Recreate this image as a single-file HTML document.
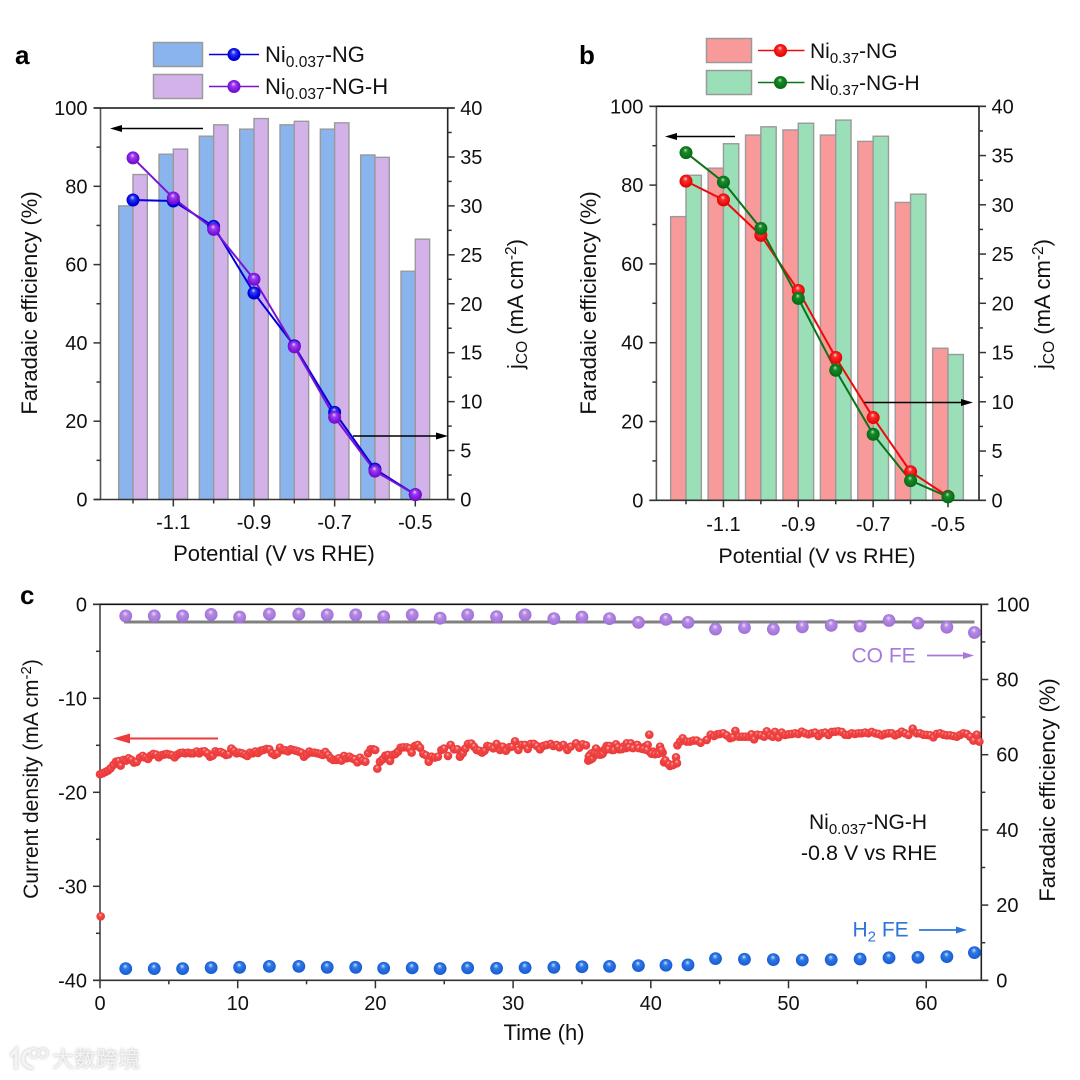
<!DOCTYPE html>
<html lang="en">
<head>
<meta charset="utf-8">
<title>Faradaic efficiency and stability charts</title>
<style>
html,body{margin:0;padding:0;background:#fff;}
svg{display:block;}
text{font-family:"Liberation Sans","Noto Sans CJK SC",sans-serif;fill:#111;font-size:20px;}
.tag{font-weight:bold;font-size:26px;fill:#000;}
.t22{font-size:22px;}
.t21{font-size:21px;}
.t215{font-size:21.5px;}
</style>
</head>
<body>
<svg id="figure" xmlns="http://www.w3.org/2000/svg" width="1080" height="1080" viewBox="0 0 1080 1080">
<defs>
<radialGradient id="sph-blue" cx="50%" cy="50%" r="55%" fx="45%" fy="28%"><stop offset="0" stop-color="#cdd6ff"/><stop offset=".3" stop-color="#2a3cf0"/><stop offset=".75" stop-color="#0000dd"/><stop offset="1" stop-color="#0000b8"/></radialGradient>
<radialGradient id="sph-purple" cx="50%" cy="50%" r="55%" fx="45%" fy="28%"><stop offset="0" stop-color="#ecd2ff"/><stop offset=".3" stop-color="#9a3ef0"/><stop offset=".75" stop-color="#7a12d8"/><stop offset="1" stop-color="#6a0cc0"/></radialGradient>
<radialGradient id="sph-red" cx="50%" cy="50%" r="55%" fx="45%" fy="28%"><stop offset="0" stop-color="#ffd8d8"/><stop offset=".3" stop-color="#f53030"/><stop offset=".75" stop-color="#ee0a0a"/><stop offset="1" stop-color="#d40000"/></radialGradient>
<radialGradient id="sph-green" cx="50%" cy="50%" r="55%" fx="45%" fy="28%"><stop offset="0" stop-color="#bfe8c4"/><stop offset=".3" stop-color="#18882a"/><stop offset=".75" stop-color="#0a7418"/><stop offset="1" stop-color="#066010"/></radialGradient>
<radialGradient id="sph-co" cx="50%" cy="50%" r="55%" fx="45%" fy="28%"><stop offset="0" stop-color="#f0e2fb"/><stop offset=".35" stop-color="#b48ae2"/><stop offset=".8" stop-color="#a676dc"/><stop offset="1" stop-color="#9566cc"/></radialGradient>
<radialGradient id="sph-h2" cx="50%" cy="50%" r="55%" fx="45%" fy="28%"><stop offset="0" stop-color="#cfe2ff"/><stop offset=".35" stop-color="#2f78e4"/><stop offset=".8" stop-color="#1c62d8"/><stop offset="1" stop-color="#1654c0"/></radialGradient>
<radialGradient id="sph-cur" cx="50%" cy="50%" r="55%" fx="45%" fy="30%"><stop offset="0" stop-color="#ffc8c8"/><stop offset=".35" stop-color="#f24a4a"/><stop offset="1" stop-color="#e93434"/></radialGradient>
<filter id="wm-glow" x="-20%" y="-30%" width="140%" height="160%"><feGaussianBlur in="SourceAlpha" stdDeviation="1.4" result="b"/><feFlood flood-color="#9a9a9a" flood-opacity=".75"/><feComposite in2="b" operator="in"/><feMerge><feMergeNode/><feMergeNode in="SourceGraphic"/></feMerge></filter>
</defs>

<g id="panel-a"></g>
<g id="panel-b"></g>
<g id="panel-c"></g>

<text class="tag" x="15" y="64">a</text>
<text class="tag" x="579" y="64">b</text>
<text class="tag" x="20" y="604">c</text>

<!-- legend a -->
<g>
<g>
<rect x="153.5" y="42.5" width="49" height="24" fill="#8ab4ee" stroke="#9a9a9a" stroke-width="1.5"/>
<line x1="209" x2="259" y1="54.5" y2="54.5" stroke="#0000dd" stroke-width="1.5"/>
<circle cx="234" cy="54.5" r="6.5" fill="url(#sph-blue)"/>
<text class="t22" x="265" y="62">Ni<tspan font-size="15.5" dy="5">0.037</tspan><tspan dy="-5">-NG</tspan></text>
</g>
<g>
<rect x="153.5" y="74.5" width="49" height="24" fill="#d3b2ea" stroke="#9a9a9a" stroke-width="1.5"/>
<line x1="209" x2="259" y1="86.5" y2="86.5" stroke="#7a12d8" stroke-width="1.5"/>
<circle cx="234" cy="86.5" r="6.5" fill="url(#sph-purple)"/>
<text class="t22" x="265" y="94">Ni<tspan font-size="15.5" dy="5">0.037</tspan><tspan dy="-5">-NG-H</tspan></text>
</g>
</g>

<!-- legend b -->
<g>
<g>
<rect x="706.5" y="38.5" width="45" height="24" fill="#f89a9a" stroke="#9a9a9a" stroke-width="1.5"/>
<line x1="758" x2="804.5" y1="50.5" y2="50.5" stroke="#ee0a0a" stroke-width="1.5"/>
<circle cx="780.5" cy="50.5" r="6.5" fill="url(#sph-red)"/>
<text class="t21" x="810" y="58">Ni<tspan font-size="15" dy="5">0.37</tspan><tspan dy="-5">-NG</tspan></text>
</g>
<g>
<rect x="706.5" y="70.5" width="45" height="24" fill="#9adfb8" stroke="#9a9a9a" stroke-width="1.5"/>
<line x1="758" x2="804.5" y1="82.5" y2="82.5" stroke="#0a7418" stroke-width="1.5"/>
<circle cx="780.5" cy="82.5" r="6.5" fill="url(#sph-green)"/>
<text class="t21" x="810" y="90">Ni<tspan font-size="15" dy="5">0.37</tspan><tspan dy="-5">-NG-H</tspan></text>
</g>
</g>

<!-- axis titles -->
<text class="t22" x="274" y="561" text-anchor="middle">Potential (V vs RHE)</text>
<text class="t22" transform="translate(37,303) rotate(-90)" text-anchor="middle">Faradaic efficiency (%)</text>
<text class="t22" transform="translate(523,304) rotate(-90)" text-anchor="middle">j<tspan font-size="15.5" dy="4">CO</tspan><tspan dy="-4"> (mA cm</tspan><tspan font-size="15.5" dy="-7">-2</tspan><tspan dy="7">)</tspan></text>

<text class="t215" x="817" y="563" text-anchor="middle">Potential (V vs RHE)</text>
<text class="t22" transform="translate(596,303) rotate(-90)" text-anchor="middle">Faradaic efficiency (%)</text>
<text class="t22" transform="translate(1050,304) rotate(-90)" text-anchor="middle">j<tspan font-size="15.5" dy="4">CO</tspan><tspan dy="-4"> (mA cm</tspan><tspan font-size="15.5" dy="-7">-2</tspan><tspan dy="7">)</tspan></text>

<text class="t22" x="544" y="1040" text-anchor="middle">Time (h)</text>
<text class="t21" transform="translate(38,779) rotate(-90)" text-anchor="middle">Current density (mA cm<tspan font-size="15" dy="-7">-2</tspan><tspan dy="7">)</tspan></text>
<text class="t22" transform="translate(1055,790) rotate(-90)" text-anchor="middle">Faradaic efficiency (%)</text>

<!-- direction arrows -->
<g><line x1="203" x2="118" y1="128.5" y2="128.5" stroke="#000" stroke-width="1.5"/><polygon points="110,128.5 122,125 122,132" fill="#000"/></g>
<g><line x1="353" x2="440" y1="436" y2="436" stroke="#000" stroke-width="1.5"/><polygon points="448,436 436,432.5 436,439.5" fill="#000"/></g>
<g><line x1="735" x2="672" y1="136.5" y2="136.5" stroke="#000" stroke-width="1.5"/><polygon points="665,136.5 677,133 677,140" fill="#000"/></g>
<g><line x1="864" x2="966" y1="402.5" y2="402.5" stroke="#000" stroke-width="1.5"/><polygon points="973,402.5 961,399 961,406" fill="#000"/></g>
<g><line x1="218" x2="122" y1="738.5" y2="738.5" stroke="#ee3a3a" stroke-width="2"/><polygon points="113,738.5 130,733.5 130,743.5" fill="#ee3a3a"/></g>

<!-- annotations -->
<g>
<text class="t21" x="851.5" y="662.5" style="fill:#a878dc">CO FE</text>
<line x1="927" x2="966" y1="655.5" y2="655.5" stroke="#a878dc" stroke-width="1.8"/><polygon points="974,655.5 963,652 963,659" fill="#a878dc"/>
</g>
<g>
<text class="t21" x="852.5" y="936.5" style="fill:#2f74d8">H<tspan font-size="15" dy="5">2</tspan><tspan dy="-5"> FE</tspan></text>
<line x1="919" x2="960" y1="930" y2="930" stroke="#2f74d8" stroke-width="1.8"/><polygon points="967,930 956,926.5 956,933.5" fill="#2f74d8"/>
</g>
<text class="t21" x="809" y="829">Ni<tspan font-size="15" dy="5">0.037</tspan><tspan dy="-5">-NG-H</tspan></text>
<text class="t215" x="869" y="860" text-anchor="middle">-0.8 V vs RHE</text>

<!-- watermark -->
<g filter="url(#wm-glow)">
<path d="M11 1056 L16 1050 V1069 M31 1050 C20 1052 20 1067 33 1068" fill="none" stroke="#f4f4f4" stroke-width="3.2"/>
<circle cx="34" cy="1053" r="4.5" fill="none" stroke="#f4f4f4" stroke-width="1.6"/>
<circle cx="43" cy="1053" r="4.5" fill="none" stroke="#f4f4f4" stroke-width="1.6"/>
<text x="52" y="1067" style="font-size:22px;fill:#f4f4f4;font-family:'Liberation Sans','Noto Sans CJK SC',sans-serif;">大数跨境</text>
</g>

<script>
/* ---------- data: panels a and b share the same potential categories ---------- */
var potentials = [-1.2, -1.1, -1.0, -0.9, -0.8, -0.7, -0.6, -0.5];

var aFeNg  = [75, 88.2, 92.8, 94.6, 95.7, 94.6, 88, 58.3];
var aFeNgH = [83, 89.5, 95.7, 97.3, 96.6, 96.2, 87.4, 66.5];
var aJNg   = [30.6, 30.5, 27.9, 21.1, 15.7, 8.9, 3.1, 0.5];
var aJNgH  = [34.9, 30.8, 27.6, 22.5, 15.6, 8.4, 2.9, 0.5];

var bFeNg  = [72, 84.3, 92.7, 94, 92.7, 91.1, 75.6, 38.6];
var bFeNgH = [82.5, 90.5, 94.8, 95.7, 96.5, 92.4, 77.7, 37];
var bJNg   = [32.4, 30.5, 26.9, 21.3, 14.5, 8.4, 2.9, 0.4];
var bJNgH  = [35.3, 32.3, 27.6, 20.5, 13.2, 6.7, 2.0, 0.35];

var potentialMajorTicks = [-1.1, -0.9, -0.7, -0.5];
var potentialMinorTicks = [-1.2, -1.0, -0.8, -0.6];
var potentialTickLabels = ['-1.1', '-0.9', '-0.7', '-0.5'];
var feMajorTicks = [0, 20, 40, 60, 80, 100];
var feMinorTicks = [10, 30, 50, 70, 90];
var jMajorTicks = [0, 5, 10, 15, 20, 25, 30, 35, 40];
var jMinorTicks = [2.5, 7.5, 12.5, 17.5, 22.5, 27.5, 32.5, 37.5];

/* ---------- data: panel c ---------- */
var feTimes = [1.87, 3.94, 6.0, 8.07, 10.14, 12.3, 14.44, 16.5, 18.57, 20.6, 22.67, 24.7, 26.7, 28.8, 30.87, 32.96, 35, 37, 39.1, 41.1, 42.7, 44.7, 46.8, 48.9, 51, 53.1, 55.2, 57.3, 59.4, 61.5, 63.5];
var coFe = [96.9, 96.9, 96.9, 97.3, 96.6, 97.4, 97.4, 97.2, 97.2, 96.7, 97.2, 96.3, 97.2, 96.7, 97.2, 96.2, 96.6, 96.2, 95.2, 96, 95.2, 93.4, 93.8, 93.4, 94, 94.4, 94.2, 95.7, 95, 93.9, 92.5];
var h2Fe = [3.1, 3.1, 3.1, 3.37, 3.46, 3.7, 3.7, 3.46, 3.46, 3.2, 3.3, 3.1, 3.3, 3.2, 3.37, 3.46, 3.6, 3.7, 3.9, 4.0, 4.1, 5.76, 5.6, 5.5, 5.4, 5.5, 5.67, 6.0, 6.1, 6.3, 7.36];
var coFeGuideTimes = [1.75, 63.5];
var coFeGuideValues = [95.3, 95.3];

var currentTimes = [0.05,0.00,0.19,0.39,0.58,0.77,0.97,1.16,1.36,1.50,1.69,1.89,2.08,2.28,2.47,2.66,2.90,3.10,3.29,3.49,3.68,3.87,4.07,4.26,4.45,4.65,4.84,5.04,5.23,5.42,5.62,5.81,6.00,6.20,6.39,6.58,6.78,7.02,7.21,7.41,7.60,7.79,7.99,8.18,8.38,8.57,8.76,8.96,9.15,9.34,9.54,9.73,9.92,10.12,10.31,10.51,10.70,10.89,11.09,11.28,11.47,11.67,11.86,12.10,12.30,12.49,12.68,12.88,13.07,13.27,13.46,13.65,13.85,14.04,14.23,14.43,14.62,14.81,15.01,15.20,15.40,15.59,15.78,15.98,16.17,16.36,16.56,16.75,16.94,17.14,17.33,17.53,17.72,17.91,18.11,18.30,18.49,18.69,18.88,19.07,19.27,19.46,19.65,19.85,19.99,20.14,20.33,20.53,20.72,20.91,21.06,21.25,21.45,21.64,21.83,22.03,22.27,22.46,22.63,22.87,23.07,23.24,23.48,23.67,23.87,24.08,24.30,24.54,24.79,24.98,25.27,25.46,25.71,25.95,26.14,26.34,26.53,26.72,26.97,27.16,27.35,27.55,27.74,27.93,28.13,28.32,28.56,28.80,29.05,29.24,29.48,29.72,29.92,30.14,30.38,30.62,30.86,31.06,31.27,31.52,31.71,31.95,32.19,32.44,32.73,32.92,33.16,33.36,33.65,33.94,34.18,34.57,34.81,35.05,35.29,35.46,35.58,35.70,35.82,36.02,36.19,36.43,36.60,36.79,36.99,37.18,37.47,37.71,38.00,38.25,38.54,38.78,39.02,39.34,39.58,39.77,39.89,39.94,40.18,40.42,40.67,40.86,40.96,41.20,41.39,41.73,41.83,41.93,42.12,42.31,42.60,42.84,43.09,43.33,43.62,44.06,44.35,44.59,44.83,45.03,45.27,45.51,45.76,45.95,46.14,46.39,46.63,46.87,47.11,47.31,47.50,47.74,47.98,48.23,48.42,48.66,48.85,49.02,49.27,49.51,49.75,49.99,50.23,50.48,50.72,50.96,51.20,51.44,51.69,51.93,52.17,52.41,52.66,52.90,53.14,53.38,53.62,53.87,54.11,54.35,54.59,54.83,55.08,55.32,55.56,55.80,56.04,56.29,56.53,56.77,57.01,57.25,57.50,57.74,57.98,58.22,58.46,58.71,59.02,59.31,59.55,59.80,60.04,60.28,60.52,60.76,61.01,61.25,61.49,61.73,61.97,62.22,62.46,62.70,62.94,63.19,63.43,63.67,63.86,35.50,35.62,35.75,35.90,36.10,36.30,36.50,36.70,36.90,37.30,37.60,37.90,38.20,38.40,38.70,39.10,39.45,39.70,40.05,40.30,40.55,40.75,41.05,41.30,41.60,41.90];
var currentDensity = [-33.2,-18.08,-17.98,-17.84,-17.69,-17.45,-17.09,-16.74,-16.67,-17.16,-16.56,-16.63,-16.38,-16.56,-16.84,-16.77,-16.31,-16.13,-16.31,-16.45,-16.10,-15.92,-15.99,-16.28,-16.06,-15.99,-15.92,-15.99,-16.06,-16.28,-15.99,-15.82,-15.78,-15.85,-15.78,-15.85,-15.85,-15.67,-15.85,-15.67,-15.64,-15.85,-16.21,-16.10,-15.64,-15.74,-15.71,-15.85,-16.03,-15.96,-15.35,-15.60,-15.85,-15.78,-15.85,-15.99,-16.13,-15.78,-15.85,-15.67,-15.82,-15.57,-15.50,-15.39,-15.43,-15.85,-16.03,-15.85,-15.25,-15.50,-15.53,-15.64,-15.43,-15.50,-15.57,-15.67,-15.78,-16.21,-15.96,-15.67,-15.78,-15.78,-15.85,-15.92,-16.03,-15.71,-16.03,-16.38,-16.56,-16.56,-16.38,-16.63,-16.13,-16.38,-16.21,-16.38,-16.49,-16.81,-16.31,-16.63,-16.74,-15.85,-15.43,-15.43,-15.50,-17.48,-16.74,-16.49,-16.10,-16.03,-16.67,-16.03,-15.92,-15.67,-15.25,-15.21,-15.21,-15.32,-15.78,-15.07,-14.96,-15.25,-15.92,-16.06,-16.74,-16.21,-16.31,-16.21,-15.50,-15.35,-16.13,-14.96,-15.43,-15.43,-16.21,-15.85,-15.35,-14.86,-14.82,-15.14,-15.50,-15.57,-15.78,-15.57,-15.07,-15.14,-15.32,-14.86,-15.50,-15.14,-15.57,-15.21,-15.14,-14.57,-15.50,-14.96,-14.96,-15.39,-14.86,-14.86,-15.07,-15.43,-15.07,-14.96,-14.86,-15.07,-14.96,-15.21,-14.96,-15.50,-15.14,-14.79,-15.25,-14.89,-15.00,-16.63,-16.03,-15.85,-16.21,-15.35,-15.85,-15.96,-15.50,-15.07,-15.07,-15.50,-14.89,-15.43,-15.14,-14.79,-14.79,-15.14,-14.96,-15.35,-15.14,-14.96,-13.87,-15.71,-15.67,-15.78,-15.14,-15.78,-16.81,-16.91,-17.20,-16.99,-16.28,-15.00,-14.61,-14.25,-14.61,-14.61,-14.50,-14.50,-14.72,-14.43,-13.87,-14.01,-13.83,-13.79,-13.72,-13.94,-14.25,-14.15,-13.47,-14.08,-14.08,-14.08,-14.08,-13.83,-14.36,-13.87,-13.94,-14.08,-13.51,-13.94,-14.08,-13.58,-14.15,-13.65,-13.90,-13.83,-13.79,-13.72,-13.79,-13.55,-13.72,-13.83,-13.72,-13.65,-14.01,-13.72,-13.65,-13.90,-13.58,-13.55,-13.51,-13.58,-13.87,-13.90,-13.72,-13.79,-13.72,-13.72,-13.65,-13.72,-13.58,-13.72,-13.79,-13.94,-13.79,-13.72,-13.72,-13.94,-13.79,-13.55,-13.72,-13.90,-13.23,-13.72,-13.72,-13.87,-13.90,-13.94,-14.15,-13.79,-13.72,-13.87,-13.94,-13.94,-14.01,-14.08,-13.90,-13.72,-13.79,-14.08,-14.50,-13.87,-14.61,-16.20,-16.50,-16.40,-15.90,-15.95,-16.00,-15.90,-15.50,-15.40,-15.50,-15.20,-15.40,-15.30,-15.20,-15.30,-15.30,-15.40,-15.50,-15.90,-15.95,-15.90,-15.50,-16.60,-17.00,-17.10,-16.90];

var timeMajorTicks = [0, 10, 20, 30, 40, 50, 60];
var timeMinorTicks = [5, 15, 25, 35, 45, 55];
var timeTickLabels = ['0', '10', '20', '30', '40', '50', '60'];
var currentMajorTicks = [0, -10, -20, -30, -40];
var currentMinorTicks = [-5, -15, -25, -35];
var currentTickLabels = ['0', '-10', '-20', '-30', '-40'];
var feCMajorTicks = [0, 20, 40, 60, 80, 100];
var feCMinorTicks = [10, 30, 50, 70, 90];

/* ---------- helpers ---------- */
var NS = 'http://www.w3.org/2000/svg';

function linear(d0, d1, r0, r1) {
  return function (v) { return r0 + (v - d0) * (r1 - r0) / (d1 - d0); };
}

function svgNode(parent, tag, props) {
  var node = document.createElementNS(NS, tag);
  for (var k in props) { node.setAttribute(k, props[k]); }
  parent.appendChild(node);
  return node;
}

function drawAxisLine(parent, x1, y1, x2, y2, color) {
  var el = svgNode(parent, 'line', { x1: x1, y1: y1, x2: x2, y2: y2, stroke: color, 'stroke-width': 1.6 });
  
  
}

function drawXTicks(parent, ticks, labels, scale, y, len, labelY) {
  ticks.forEach(function (t, i) {
    var el = svgNode(parent, 'line', { x1: scale(t), x2: scale(t), y1: y, y2: y + len, stroke: '#333', 'stroke-width': 1.5 });
    
    
    if (labels) {
      var tx = svgNode(parent, 'text', { x: scale(t), y: labelY, 'text-anchor': 'middle' });
      tx.textContent = labels[i];
      
      
    }
  });
}

function drawYTicks(parent, ticks, labels, scale, x, dir, len, labelOffset) {
  ticks.forEach(function (t, i) {
    var el = svgNode(parent, 'line', { x1: x, x2: x + dir * len, y1: scale(t), y2: scale(t), stroke: '#333', 'stroke-width': 1.5 });
    
    
    if (labels) {
      var tx = svgNode(parent, 'text', { x: x + dir * labelOffset, y: scale(t) + 7, 'text-anchor': dir < 0 ? 'end' : 'start' });
      tx.textContent = labels[i];
      
      
    }
  });
}

function drawBars(parent, cats, values, xs, ys, offset, width, fill, name) {
  var base = ys(0);
  cats.forEach(function (c, i) {
    var x0 = xs(c + offset);
    var x1 = xs(c + offset + width);
    var el = svgNode(parent, 'rect', { x: x0, y: ys(values[i]), width: x1 - x0, height: base - ys(values[i]), fill: fill, stroke: '#9a9a9a', 'stroke-width': 1.4 });
    
    
  });
}

function drawLine(parent, cats, values, xs, ys, color, name) {
  var pts = cats.map(function (c, i) { return xs(c) + ',' + ys(values[i]); }).join(' ');
  var el = svgNode(parent, 'polyline', { points: pts, fill: 'none', stroke: color, 'stroke-width': 2 });
  
  
}

function drawDots(parent, cats, values, xs, ys, r, fill, name) {
  cats.forEach(function (c, i) {
    var el = svgNode(parent, 'circle', { cx: xs(c), cy: ys(values[i]), r: r, fill: fill });
    
    
  });
}

function labelsOf(ticks) { return ticks.map(String); }

function drawPotentialPanel(g, box, barWidth, feA, feB, jA, jB, fillA, fillB, lineA, lineB, gradA, gradB, nameA, nameB, titleY) {
  var xs = linear(-1.2, -0.5, box.x12, box.x05);
  var yFe = linear(0, 100, box.bottom, box.top);
  var yJ = linear(0, 40, box.bottom, box.top);
  drawBars(g, potentials, feA, xs, yFe, -barWidth, barWidth, fillA, nameA + '-fe-bar');
  drawBars(g, potentials, feB, xs, yFe, 0, barWidth, fillB, nameB + '-fe-bar');
  drawAxisLine(g, box.left, box.top, box.left, box.bottom, '#555');
  drawAxisLine(g, box.right, box.top, box.right, box.bottom, '#222');
  drawAxisLine(g, box.left - 7, box.top, box.right + 7, box.top, '#111');
  drawAxisLine(g, box.left - 7, box.bottom, box.right + 7, box.bottom, '#333');
  drawXTicks(g, potentialMajorTicks, potentialTickLabels, xs, box.bottom, 7, titleY);
  drawXTicks(g, potentialMinorTicks, null, xs, box.bottom, 4, 0);
  drawYTicks(g, feMajorTicks, labelsOf(feMajorTicks), yFe, box.left, -1, 7, 13);
  drawYTicks(g, feMinorTicks, null, yFe, box.left, -1, 4, 0);
  drawYTicks(g, jMajorTicks, labelsOf(jMajorTicks), yJ, box.right, 1, 7, 12.5);
  drawYTicks(g, jMinorTicks, null, yJ, box.right, 1, 4, 0);
  drawLine(g, potentials, jA, xs, yJ, lineA, nameA + '-j-line');
  drawLine(g, potentials, jB, xs, yJ, lineB, nameB + '-j-line');
  drawDots(g, potentials, jA, xs, yJ, 6.5, gradA, nameA + '-j-point');
  drawDots(g, potentials, jB, xs, yJ, 6.5, gradB, nameB + '-j-point');
}

/* ---------- panel a ---------- */
drawPotentialPanel(document.getElementById('panel-a'),
  { left: 100.5, right: 447.7, top: 108, bottom: 499.5, x12: 133, x05: 415.3 },
  0.0355, aFeNg, aFeNgH, aJNg, aJNgH,
  '#8ab4ee', '#d3b2ea', '#0000dd', '#7a12d8', 'url(#sph-blue)', 'url(#sph-purple)',
  'ni0037-ng', 'ni0037-ng-h', 529);

/* ---------- panel b ---------- */
drawPotentialPanel(document.getElementById('panel-b'),
  { left: 656.4, right: 979, top: 106.3, bottom: 500.3, x12: 686, x05: 948 },
  0.041, bFeNg, bFeNgH, bJNg, bJNgH,
  '#f89a9a', '#9adfb8', '#ee0a0a', '#0a7418', 'url(#sph-red)', 'url(#sph-green)',
  'ni037-ng', 'ni037-ng-h', 531);

/* ---------- panel c ---------- */
(function () {
  var g = document.getElementById('panel-c');
  var left = 100, right = 981.3, top = 604.3, bottom = 980.3;
  var xs = linear(0, 64, left, right);
  var yCur = linear(0, -40, top, bottom);
  var yFe = linear(0, 100, bottom, top);

  var guide = svgNode(g, 'line', { x1: xs(coFeGuideTimes[0]), x2: xs(coFeGuideTimes[1]), y1: yFe(coFeGuideValues[0]), y2: yFe(coFeGuideValues[1]), stroke: '#808080', 'stroke-width': 3 });
  
  

  drawAxisLine(g, left, top, left, bottom, '#444');
  drawAxisLine(g, right, top, right, bottom, '#222');
  drawAxisLine(g, left - 7, top, right + 7, top, '#111');
  drawAxisLine(g, left - 7, bottom, right + 7, bottom, '#333');
  drawXTicks(g, timeMajorTicks, timeTickLabels, xs, bottom, 8, 1010);
  drawXTicks(g, timeMinorTicks, null, xs, bottom, 4, 0);
  drawYTicks(g, currentMajorTicks, currentTickLabels, yCur, left, -1, 7, 13);
  drawYTicks(g, currentMinorTicks, null, yCur, left, -1, 4, 0);
  drawYTicks(g, feCMajorTicks, labelsOf(feCMajorTicks), yFe, right, 1, 7, 15);
  drawYTicks(g, feCMinorTicks, null, yFe, right, 1, 4, 0);

  drawDots(g, currentTimes, currentDensity, xs, yCur, 4.3, 'url(#sph-cur)', 'current-density-point');
  drawDots(g, feTimes, coFe, xs, yFe, 6.4, 'url(#sph-co)', 'co-fe-point');
  drawDots(g, feTimes, h2Fe, xs, yFe, 6.4, 'url(#sph-h2)', 'h2-fe-point');
})();
</script>
</svg>
</body>
</html>
